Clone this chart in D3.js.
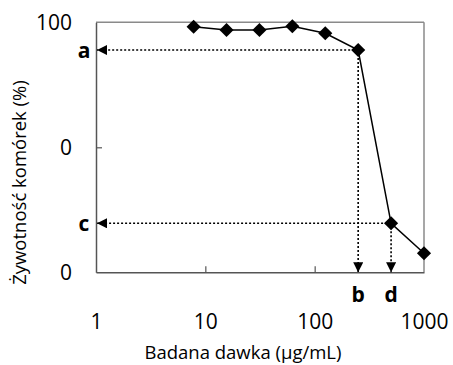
<!DOCTYPE html>
<html>
<head>
<meta charset="utf-8">
<script src="https://cdn.jsdelivr.net/npm/d3@7"></script>
<style>
  html, body { margin: 0; padding: 0; background: #fff; }
  svg { display: block; }
  text { font-family: "Open Sans", "Noto Sans", sans-serif; fill: #000; }
</style>
</head>
<body>
<svg id="chart" width="453" height="365"></svg>
<script>
// Cell viability vs. tested dose (log scale)
const doses = [7.8125, 15.625, 31.25, 62.5, 125, 250, 500, 1000];
const viability = [98.2, 96.9, 96.9, 98.4, 95.6, 88.9, 19.6, 7.6];

const xTickValues = [1, 10, 100, 1000];
const xTickLabels = ["1", "10", "100", "1000"];
const yTickValues = [0, 50, 100];
const yTickLabels = ["0", "0", "100"];

// Reading guides: which measured point each letter marks
const guideIndex = [5, 6];
const yGuideLetters = ["a", "c"];
const xGuideLetters = ["b", "d"];

const xTitle = "Badana dawka (µg/mL)";
const yTitle = "Żywotność komórek (%)";

const svg = d3.select("#chart");
const margin = { left: 96, top: 22.3, right: 29, bottom: 92.7 };
const W = 453 - margin.left - margin.right;
const H = 365 - margin.top - margin.bottom;

const x = d3.scaleLog().domain([1, 1000]).range([0, W]);
const y = d3.scaleLinear().domain([0, 100]).range([H, 0]);

const defs = svg.append("defs");
["left", "down"].forEach(dir => {
  const m = defs.append("marker")
    .attr("id", "arrow-" + dir)
    .attr("viewBox", "0 0 10 10")
    .attr("refX", 10).attr("refY", 5)
    .attr("markerWidth", 10).attr("markerHeight", 10)
    .attr("markerUnits", "userSpaceOnUse")
    .attr("orient", "auto");
  m.append("path").attr("d", "M0,0 L10,5 L0,10 Z").attr("fill", "#000");
});

const g = svg.append("g").attr("transform", `translate(${margin.left},${margin.top})`);

// frame: light top/right, darker left/bottom
g.append("line").attr("x1", 0).attr("x2", W).attr("y1", 0).attr("y2", 0)
  .attr("stroke", "#8a8a8a").attr("stroke-width", 1.5);
g.append("line").attr("x1", W).attr("x2", W).attr("y1", 0).attr("y2", H)
  .attr("stroke", "#8a8a8a").attr("stroke-width", 1.5);

// axes with inward ticks
const xAxis = d3.axisBottom(x).tickValues(xTickValues)
  .tickSizeInner(-6).tickSizeOuter(0)
  .tickFormat((d, i) => xTickLabels[i]);
const gx = g.append("g").attr("transform", `translate(0,${H})`).call(xAxis);
gx.select(".domain").attr("stroke", "#555").attr("stroke-width", 1.5);
gx.selectAll(".tick line").attr("stroke", "#555").attr("stroke-width", 1.2)
  .filter(d => d === 1 || d === 1000).remove();
gx.selectAll(".tick text").attr("y", 0).attr("dy", 0)
  .attr("transform", "translate(0,56.5)")
  .style("font-size", "21px").style("font-family", '"Open Sans", sans-serif');

const yAxis = d3.axisLeft(y).tickValues(yTickValues)
  .tickSizeInner(-6).tickSizeOuter(0)
  .tickFormat((d, i) => yTickLabels[i]);
const gy = g.append("g").call(yAxis);
gy.select(".domain").attr("stroke", "#555").attr("stroke-width", 1.5);
gy.selectAll(".tick line").attr("stroke", "#555").attr("stroke-width", 1.2)
  .filter(d => d === 0 || d === 100).remove();
gy.selectAll(".tick text").attr("x", -24).attr("dy", "0.36em")
  .style("font-size", "21px").style("font-family", '"Open Sans", sans-serif');

// dotted reading guides with arrowheads
guideIndex.forEach((idx, k) => {
  const px = x(doses[idx]), py = y(viability[idx]);
  g.append("line")
    .attr("x1", px).attr("y1", py).attr("x2", 1).attr("y2", py)
    .attr("stroke", "#000").attr("stroke-width", 1.6)
    .attr("stroke-dasharray", "2,2")
    .attr("marker-end", "url(#arrow-left)");
  g.append("line")
    .attr("x1", px).attr("y1", py).attr("x2", px).attr("y2", H)
    .attr("stroke", "#000").attr("stroke-width", 1.6)
    .attr("stroke-dasharray", "2,2")
    .attr("marker-end", "url(#arrow-down)");
  g.append("text").attr("x", -12).attr("y", py).attr("dy", "0.36em")
    .attr("text-anchor", "middle")
    .style("font-size", "21px").style("font-weight", "bold")
    .text(yGuideLetters[k]);
  g.append("text").attr("x", px).attr("y", H + 29.5)
    .attr("text-anchor", "middle")
    .style("font-size", "21px").style("font-weight", "bold")
    .text(xGuideLetters[k]);
});

// data line and diamond markers
const line = d3.line().x((d, i) => x(doses[i])).y(d => y(d));
g.append("path").datum(viability)
  .attr("d", line).attr("fill", "none")
  .attr("stroke", "#000").attr("stroke-width", 1.5);

g.selectAll(".pt").data(viability).enter().append("path")
  .attr("class", "pt")
  .attr("d", d3.symbol().type(d3.symbolSquare).size(100))
  .attr("transform", (d, i) => `translate(${x(doses[i])},${y(d)}) rotate(45)`)
  .attr("fill", "#000");

// axis titles
svg.append("text")
  .attr("x", 243).attr("y", 358.5)
  .attr("text-anchor", "middle")
  .style("font-size", "18.5px")
  .text(xTitle);

svg.append("text")
  .attr("transform", "translate(26,182.5) rotate(-90)")
  .attr("text-anchor", "middle")
  .style("font-size", "18.5px")
  .text(yTitle);
</script>
</body>
</html>
